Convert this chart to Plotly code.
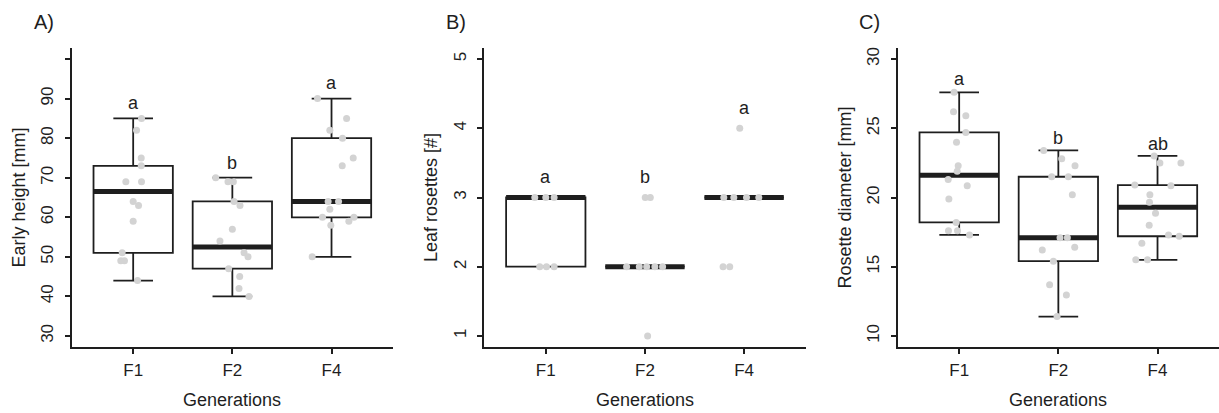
import plotly.graph_objects as go

# ---------------- data ----------------
categories = ["F1", "F2", "F4"]
positions = [1, 2, 3]

# Panel A: Early height [mm]
a_q1 = [51, 47, 60]
a_median = [66.5, 52.5, 64]
a_q3 = [73, 64, 80]
a_low = [44, 40, 50]
a_high = [85, 70, 90]
a_f1 = [85, 82, 75, 73, 69, 69, 64, 63, 59, 51, 49, 49, 44]
a_f1_jit = [0.084, 0.034, 0.081, 0.081, -0.074, 0.084, 0.0, 0.054, 0.0, -0.111, -0.125, -0.088, 0.044]
a_f2 = [70, 69, 69, 64, 63, 57, 54, 51, 50, 47, 45, 42, 40]
a_f2_jit = [-0.168, -0.044, 0.010, 0.017, 0.077, 0.0, -0.125, 0.118, 0.158, -0.037, 0.074, 0.067, 0.168]
a_f4 = [90, 85, 82, 80, 75, 73, 64, 64, 62, 60, 60, 59, 58, 50]
a_f4_jit = [-0.141, 0.152, -0.017, 0.111, 0.219, 0.108, -0.034, 0.071, -0.017, -0.091, 0.226, 0.175, -0.007, -0.195]
a_letters = ["a", "b", "a"]
a_letter_y = [89, 73.7, 94]
a_ticks = [30, 40, 50, 60, 70, 80, 90, 100]
a_ticktext = ["30", "40", "50", "60", "70", "80", "90", ""]

# Panel B: Leaf rosettes [#]
b_q1 = [2, 2, 3]
b_median = [3, 2, 3]
b_q3 = [3, 2, 3]
b_low = [2, 2, 3]
b_high = [3, 2, 3]
b_f1 = [3, 3, 3, 2, 2, 2]
b_f1_jit = [-0.111, 0.0, 0.084, -0.061, 0.007, 0.084]
b_f2 = [3, 3, 2, 2, 2, 2, 2, 1]
b_f2_jit = [0.003, 0.054, -0.185, -0.057, 0.017, 0.10, 0.178, 0.027]
b_f4 = [4, 3, 3, 3, 3, 2, 2]
b_f4_jit = [-0.044, -0.205, -0.104, 0.024, 0.148, -0.212, -0.145]
b_letters = ["a", "b", "a"]
b_letter_y = [3.3, 3.3, 4.3]
b_ticks = [1, 2, 3, 4, 5]

# Panel C: Rosette diameter [mm]
c_q1 = [18.2, 15.4, 17.2]
c_median = [21.6, 17.1, 19.3]
c_q3 = [24.7, 21.5, 20.9]
c_low = [17.3, 11.4, 15.5]
c_high = [27.6, 23.4, 23.0]
c_f1 = [27.6, 26.2, 25.9, 24.7, 24.0, 22.3, 21.9, 21.3, 20.85, 19.9, 18.2, 17.6, 17.6, 17.3]
c_f1_jit = [-0.051, -0.057, 0.067, 0.067, -0.027, -0.010, -0.020, -0.111, 0.081, -0.104, -0.030, -0.108, -0.017, 0.104]
c_f2 = [23.4, 22.8, 22.3, 21.5, 21.5, 20.2, 17.1, 17.1, 16.2, 16.4, 15.4, 13.7, 12.95, 11.4]
c_f2_jit = [-0.148, 0.034, 0.168, -0.067, 0.101, 0.141, 0.017, 0.091, -0.162, 0.165, -0.050, -0.088, 0.081, -0.013]
c_f4 = [23.0, 22.5, 22.5, 20.9, 20.85, 20.2, 19.66, 18.86, 18.0, 17.3, 17.2, 16.7, 15.5, 15.5]
c_f4_jit = [-0.034, 0.024, 0.236, -0.229, 0.135, -0.077, -0.081, -0.020, -0.084, 0.111, 0.219, -0.158, -0.219, -0.101]
c_letters = ["a", "b", "ab"]
c_letter_y = [28.55, 24.3, 23.85]
c_ticks = [10, 15, 20, 25, 30]

panels = [
    dict(q1=a_q1, med=a_median, q3=a_q3, lo=a_low, hi=a_high,
         pts=[(a_f1, a_f1_jit), (a_f2, a_f2_jit), (a_f4, a_f4_jit)],
         letters=a_letters, ly=a_letter_y, ticks=a_ticks, ticktext=a_ticktext,
         yrange=[27.2, 102.8], title="Early height [mm]", tag="A)"),
    dict(q1=b_q1, med=b_median, q3=b_q3, lo=b_low, hi=b_high,
         pts=[(b_f1, b_f1_jit), (b_f2, b_f2_jit), (b_f4, b_f4_jit)],
         letters=b_letters, ly=b_letter_y, ticks=b_ticks, ticktext=[str(t) for t in b_ticks],
         yrange=[0.84, 5.16], title="Leaf rosettes [#]", tag="B)"),
    dict(q1=c_q1, med=c_median, q3=c_q3, lo=c_low, hi=c_high,
         pts=[(c_f1, c_f1_jit), (c_f2, c_f2_jit), (c_f4, c_f4_jit)],
         letters=c_letters, ly=c_letter_y, ticks=c_ticks, ticktext=[str(t) for t in c_ticks],
         yrange=[9.2, 30.8], title="Rosette diameter [mm]", tag="C)"),
]

# ---------------- layout constants ----------------
W, H = 1219, 413
x_left_px = [71.7, 484.3, 897.7]
plot_w_px = 321.3
y_top_px, y_bot_px = 48, 347
ink = "#1e1e1e"
point_col = "#d3d3d3"
FONT = "Liberation Sans, Arial, Helvetica, sans-serif"
BOX_HALF = 0.4

fig = go.Figure()
annotations = []
layout = {}

for i, p in enumerate(panels):
    n = "" if i == 0 else str(i + 1)
    xa, ya = "x" + n, "y" + n
    # box outlines + whiskers
    fig.add_trace(go.Box(
        x=positions, q1=p["q1"], median=p["med"], q3=p["q3"],
        lowerfence=p["lo"], upperfence=p["hi"],
        width=2 * BOX_HALF, whiskerwidth=0.5,
        line=dict(color=ink, width=1.8), fillcolor="white",
        boxpoints=False, showlegend=False, hoverinfo="skip",
        xaxis=xa, yaxis=ya))
    # thick median bars
    mx, my = [], []
    for pos, m in zip(positions, p["med"]):
        mx += [pos - BOX_HALF, pos + BOX_HALF, None]
        my += [m, m, None]
    fig.add_trace(go.Scatter(x=mx, y=my, mode="lines",
                             line=dict(color=ink, width=5),
                             showlegend=False, hoverinfo="skip",
                             xaxis=xa, yaxis=ya))
    # jittered points
    for pos, (vals, jit) in zip(positions, p["pts"]):
        fig.add_trace(go.Scatter(
            x=[pos + j for j in jit], y=vals, mode="markers",
            marker=dict(color=point_col, size=7, line=dict(width=0)),
            showlegend=False, hoverinfo="skip", xaxis=xa, yaxis=ya))
    # letters
    for pos, t, yy in zip(positions, p["letters"], p["ly"]):
        annotations.append(dict(x=pos, y=yy, xref=xa, yref=ya, text=t,
                                showarrow=False, font=dict(size=18, color=ink, family=FONT),
                                xanchor="center", yanchor="middle"))
    x0 = x_left_px[i] / W
    x1 = min(1.0, (x_left_px[i] + plot_w_px) / W)
    ydom = [1 - y_bot_px / H, 1 - y_top_px / H]
    layout["xaxis" + n] = dict(
        domain=[x0, x1], range=[0.38, 3.62], anchor=ya,
        tickvals=positions, ticktext=categories,
        showline=True, linecolor=ink, linewidth=2,
        ticks="outside", ticklen=5, tickwidth=1.5, tickcolor=ink,
        showgrid=False, zeroline=False, ticklabelstandoff=2,
        tickfont=dict(size=17, color=ink, family=FONT))
    layout["yaxis" + n] = dict(
        domain=ydom, range=p["yrange"], anchor=xa,
        tickvals=p["ticks"], ticktext=p["ticktext"], tickangle=-90,
        showline=True, linecolor=ink, linewidth=2,
        ticks="outside", ticklen=5, tickwidth=1.5, tickcolor=ink,
        showgrid=False, zeroline=False, ticklabelstandoff=5,
        tickfont=dict(size=17, color=ink, family=FONT))
    # axis titles and panel tags
    annotations.append(dict(x=(x_left_px[i] - 53.7) / W, y=1 - (y_top_px + y_bot_px) / 2 / H,
                            xref="paper", yref="paper", text=p["title"], textangle=-90,
                            showarrow=False, font=dict(size=18, color=ink, family=FONT),
                            xanchor="center", yanchor="middle"))
    annotations.append(dict(x=(x_left_px[i] + plot_w_px / 2) / W, y=1 - 400 / H,
                            xref="paper", yref="paper", text="Generations",
                            showarrow=False, font=dict(size=18, color=ink, family=FONT),
                            xanchor="center", yanchor="middle"))
    annotations.append(dict(x=(x_left_px[i] - 28) / W, y=1 - 22 / H,
                            xref="paper", yref="paper", text=p["tag"],
                            showarrow=False, font=dict(size=20, color=ink, family=FONT),
                            xanchor="center", yanchor="middle"))

fig.update_layout(
    width=W, height=H, margin=dict(l=0, r=0, t=0, b=0),
    paper_bgcolor="white", plot_bgcolor="white",
    font=dict(family=FONT, color=ink),
    annotations=annotations, **layout)

fig.write_html("out.html", config={"displayModeBar": False},
               post_script="document.body.style.margin='0';document.body.style.overflow='hidden';")
